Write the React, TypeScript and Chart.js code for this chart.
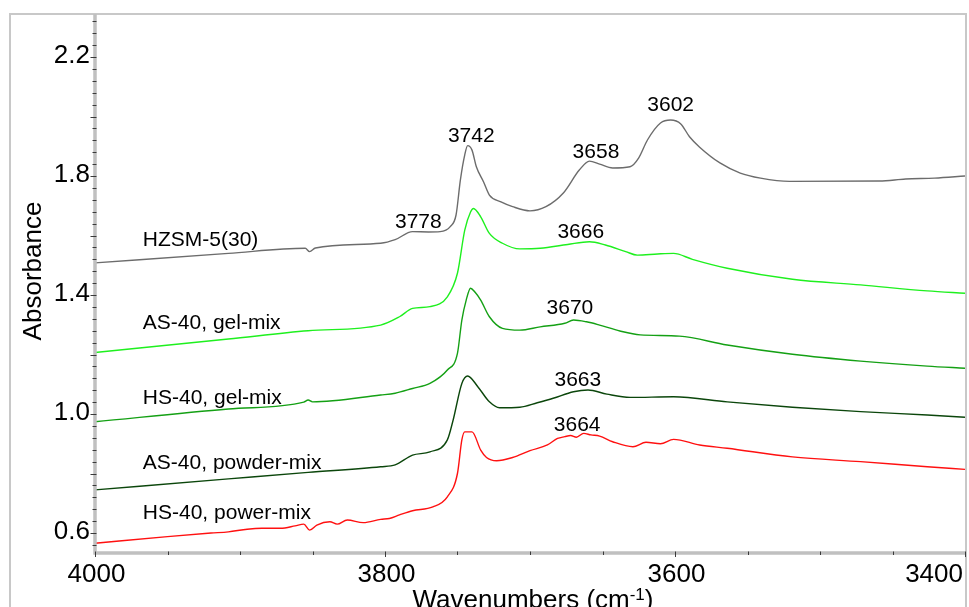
import React, { useEffect, useRef } from "react";
import { Chart, registerables } from "chart.js";

Chart.register(...registerables);

const FONT = "'Liberation Sans', Arial, Helvetica, sans-serif";

// ---------- data (wavenumber cm-1, absorbance) ----------
const hzsmW = [4000, 3908, 3855, 3852, 3848, 3803, 3793, 3781, 3770, 3762, 3755, 3751, 3748, 3745, 3743, 3740, 3737, 3732, 3728, 3720, 3712, 3700, 3689, 3677, 3666, 3659, 3652, 3643, 3631, 3625, 3619, 3610, 3603, 3596, 3590, 3583, 3569, 3555, 3541, 3521, 3459, 3441, 3421, 3400];
const hzsmA = [1.508, 1.540, 1.557, 1.546, 1.558, 1.574, 1.586, 1.613, 1.612, 1.613, 1.630, 1.669, 1.787, 1.871, 1.902, 1.887, 1.831, 1.780, 1.736, 1.713, 1.697, 1.683, 1.697, 1.743, 1.820, 1.850, 1.840, 1.827, 1.831, 1.861, 1.921, 1.978, 1.988, 1.975, 1.932, 1.897, 1.844, 1.810, 1.793, 1.782, 1.783, 1.790, 1.793, 1.800];

const asGelW = [4000, 3908, 3853, 3803, 3790, 3781, 3769, 3757, 3750, 3745, 3741, 3739, 3734, 3728, 3719, 3707, 3693, 3674, 3659, 3648, 3634, 3626, 3612, 3601, 3588, 3564, 3519, 3472, 3426, 3400];
const asGelA = [1.207, 1.252, 1.280, 1.299, 1.327, 1.355, 1.361, 1.394, 1.474, 1.618, 1.679, 1.691, 1.663, 1.607, 1.574, 1.555, 1.557, 1.570, 1.579, 1.568, 1.546, 1.534, 1.538, 1.540, 1.520, 1.490, 1.453, 1.434, 1.414, 1.406];

const hsGelW = [4000, 3908, 3856, 3853, 3850, 3803, 3793, 3781, 3769, 3757, 3750, 3747, 3744, 3741, 3738, 3734, 3728, 3719, 3707, 3693, 3676, 3670, 3661, 3652, 3638, 3624, 3597, 3564, 3519, 3472, 3426, 3400];
const hsGelA = [0.974, 1.017, 1.040, 1.047, 1.041, 1.064, 1.070, 1.086, 1.103, 1.148, 1.205, 1.316, 1.383, 1.423, 1.410, 1.383, 1.327, 1.288, 1.282, 1.293, 1.305, 1.316, 1.310, 1.299, 1.279, 1.266, 1.262, 1.232, 1.201, 1.178, 1.161, 1.154];

const asPowW = [4000, 3908, 3853, 3803, 3793, 3781, 3769, 3757, 3753, 3747, 3743, 3736, 3728, 3721, 3707, 3695, 3684, 3670, 3660, 3647, 3631, 3601, 3564, 3519, 3472, 3426, 3400];
const asPowA = [0.745, 0.782, 0.804, 0.823, 0.829, 0.862, 0.873, 0.913, 0.980, 1.103, 1.128, 1.092, 1.041, 1.021, 1.023, 1.038, 1.053, 1.075, 1.081, 1.067, 1.056, 1.058, 1.041, 1.023, 1.008, 0.997, 0.989];

const hsPowW = [4000, 3950, 3920, 3908, 3895, 3885, 3872, 3862, 3856, 3852, 3847, 3838, 3833, 3826, 3815, 3803, 3797, 3790, 3781, 3767, 3757, 3750, 3747, 3745, 3740, 3734, 3730, 3723, 3712, 3700, 3688, 3681, 3676, 3672, 3668, 3663, 3658, 3652, 3643, 3629, 3620, 3610, 3601, 3583, 3564, 3519, 3472, 3426, 3400];
const hsPowA = [0.566, 0.588, 0.600, 0.604, 0.613, 0.616, 0.616, 0.624, 0.630, 0.610, 0.627, 0.638, 0.630, 0.644, 0.635, 0.646, 0.649, 0.661, 0.675, 0.688, 0.722, 0.801, 0.913, 0.940, 0.940, 0.879, 0.854, 0.843, 0.854, 0.877, 0.896, 0.918, 0.924, 0.928, 0.922, 0.935, 0.930, 0.926, 0.907, 0.890, 0.905, 0.900, 0.915, 0.896, 0.885, 0.856, 0.840, 0.823, 0.814];

const SERIES_NAMES = ["HZSM-5(30)", "AS-40, gel-mix", "HS-40, gel-mix", "AS-40, powder-mix", "HS-40, power-mix"];
const SERIES_COLORS = ["#6c6c6c", "#1ef01e", "#14a014", "#0b460b", "#ff1010"];
const SERIES_W = [hzsmW, asGelW, hsGelW, asPowW, hsPowW];
const SERIES_A = [hzsmA, asGelA, hsGelA, asPowA, hsPowA];

// series name labels (position in data units)
const NAME_LABEL_W = 3967;
const NAME_LABEL_A = [1.585, 1.306, 1.054, 0.835, 0.667];

// peak annotations
const PEAK_TEXT = ["3778", "3742", "3658", "3602", "3666", "3670", "3663", "3664"];
const PEAK_W = [3777, 3740.5, 3654.5, 3603, 3665, 3672.5, 3667, 3667.5];
const PEAK_A = [1.645, 1.934, 1.881, 2.039, 1.612, 1.356, 1.114, 0.963];

const X_TICKS = [4000, 3800, 3600, 3400];
const Y_TICKS = [0.6, 1.0, 1.4, 1.8, 2.2];
const X_MINOR_STEP = 50;
const Y_MINOR_STEP = 0.04;

const X_MIN = 3400;
const X_MAX = 4000;
const Y_MIN = 0.533;
const Y_MAX = 2.3445;

const decorPlugin = {
  id: "decor",
  beforeDraw(chart: any) {
    const ctx = chart.ctx;
    ctx.save();
    ctx.fillStyle = "#ffffff";
    ctx.fillRect(0, 0, chart.width, chart.height);
    ctx.restore();
  },
  afterDraw(chart: any) {
    const ctx = chart.ctx;
    const xs = chart.scales.x;
    const ys = chart.scales.y;
    const area = chart.chartArea;
    ctx.save();

    // outer frame
    ctx.strokeStyle = "#c8c8c8";
    ctx.lineWidth = 2;
    ctx.beginPath();
    ctx.moveTo(10, chart.height);
    ctx.lineTo(10, 14);
    ctx.lineTo(966, 14);
    ctx.lineTo(966, chart.height);
    ctx.stroke();

    // axis lines
    ctx.strokeStyle = "#c0c0c0";
    ctx.lineWidth = 3.5;
    ctx.beginPath();
    ctx.moveTo(area.left, 14);
    ctx.lineTo(area.left, area.bottom + 1.5);
    ctx.moveTo(area.left - 1.5, area.bottom);
    ctx.lineTo(area.right + 1, area.bottom);
    ctx.stroke();

    // tick marks
    ctx.strokeStyle = "#3a3a3a";
    ctx.lineWidth = 1;
    ctx.beginPath();
    const yStart = Math.ceil(Y_MIN / Y_MINOR_STEP - 1e-6);
    const yEnd = Math.floor(Y_MAX / Y_MINOR_STEP + 1e-6);
    for (let k = yStart; k <= yEnd; k++) {
      const v = k * Y_MINOR_STEP;
      const py = Math.round(ys.getPixelForValue(v)) + 0.5;
      const isMid = Math.abs(v / 0.2 - Math.round(v / 0.2)) < 1e-6;
      ctx.moveTo(area.left + 1.5, py);
      ctx.lineTo(area.left - (isMid ? 4.5 : 2.5), py);
    }
    for (let v = X_MIN; v <= X_MAX; v += X_MINOR_STEP) {
      const px = Math.round(xs.getPixelForValue(v)) + 0.5;
      const isMajor = v % 200 === 0;
      ctx.moveTo(px, area.bottom - 1.5);
      ctx.lineTo(px, area.bottom + (isMajor ? 4 : 2));
    }
    ctx.stroke();

    // x tick labels
    ctx.fillStyle = "#000";
    ctx.font = `26px ${FONT}`;
    ctx.textBaseline = "alphabetic";
    X_TICKS.forEach((v, i) => {
      const px = xs.getPixelForValue(v);
      if (i === X_TICKS.length - 1) {
        ctx.textAlign = "right";
        ctx.fillText(String(v), px - 2, 582);
      } else {
        ctx.textAlign = "center";
        ctx.fillText(String(v), px + 1.5, 582);
      }
    });

    // y title
    ctx.save();
    ctx.translate(41, 271);
    ctx.rotate(-Math.PI / 2);
    ctx.textAlign = "center";
    ctx.textBaseline = "alphabetic";
    ctx.font = `26px ${FONT}`;
    ctx.fillText("Absorbance", 0, 0);
    ctx.restore();

    // x title with superscript
    const main = "Wavenumbers (cm";
    const sup = "-1";
    const close = ")";
    ctx.font = `26px ${FONT}`;
    const w1 = ctx.measureText(main).width;
    const w3 = ctx.measureText(close).width;
    ctx.font = `17px ${FONT}`;
    const w2 = ctx.measureText(sup).width;
    let sx = 533 - (w1 + w2 + w3) / 2;
    ctx.textAlign = "left";
    ctx.font = `26px ${FONT}`;
    ctx.fillText(main, sx, 608);
    sx += w1;
    ctx.font = `17px ${FONT}`;
    ctx.fillText(sup, sx, 600);
    sx += w2;
    ctx.font = `26px ${FONT}`;
    ctx.fillText(close, sx, 608);

    // series name labels
    ctx.font = `21px ${FONT}`;
    ctx.textBaseline = "middle";
    ctx.textAlign = "left";
    SERIES_NAMES.forEach((name, i) => {
      ctx.fillText(name, xs.getPixelForValue(NAME_LABEL_W), ys.getPixelForValue(NAME_LABEL_A[i]));
    });

    // peak labels
    ctx.textAlign = "center";
    PEAK_TEXT.forEach((t, i) => {
      ctx.fillText(t, xs.getPixelForValue(PEAK_W[i]), ys.getPixelForValue(PEAK_A[i]));
    });

    ctx.restore();
  },
};

export default function App() {
  const canvasRef = useRef<HTMLCanvasElement | null>(null);

  useEffect(() => {
    const canvas = canvasRef.current;
    if (!canvas) return;
    const datasets = SERIES_NAMES.map((name, i) => ({
      label: name,
      data: SERIES_W[i].map((w, j) => ({ x: w, y: SERIES_A[i][j] })),
      borderColor: SERIES_COLORS[i],
      backgroundColor: SERIES_COLORS[i],
      borderWidth: 1.4,
      pointRadius: 0,
      cubicInterpolationMode: "monotone" as const,
      fill: false,
    }));

    const chart = new Chart(canvas, {
      type: "line",
      data: { datasets },
      plugins: [decorPlugin],
      options: {
        animation: false,
        responsive: false,
        maintainAspectRatio: false,
        devicePixelRatio: 1,
        layout: { padding: { left: 0, top: 14, right: 4, bottom: 0 } },
        plugins: {
          legend: { display: false },
          tooltip: { enabled: false },
          title: { display: false },
        },
        scales: {
          x: {
            type: "linear",
            reverse: true,
            min: X_MIN,
            max: X_MAX,
            grid: { display: false, drawTicks: false },
            border: { display: false },
            ticks: { display: false },
            afterBuildTicks: (scale: any) => {
              scale.ticks = X_TICKS.map((v) => ({ value: v }));
            },
            afterFit: (scale: any) => {
              scale.height = 54;
              scale.paddingLeft = 0;
              scale.paddingRight = 0;
              scale.paddingTop = 0;
              scale.paddingBottom = 0;
            },
          },
          y: {
            type: "linear",
            min: Y_MIN,
            max: Y_MAX,
            grid: { display: false, drawTicks: false },
            border: { display: false },
            ticks: {
              color: "#000",
              font: { family: FONT, size: 26 },
              padding: 5,
              labelOffset: -1,
              callback: (v: any) => Number(v).toFixed(1),
            },
            afterBuildTicks: (scale: any) => {
              scale.ticks = Y_TICKS.map((v) => ({ value: v }));
            },
            afterFit: (scale: any) => {
              scale.width = 95;
              scale.paddingTop = 0;
              scale.paddingBottom = 0;
              scale.paddingLeft = 0;
              scale.paddingRight = 0;
            },
          },
        },
      },
    });
    return () => chart.destroy();
  }, []);

  return (
    <div style={{ position: "absolute", left: 0, top: 0, width: 969, height: 607, overflow: "hidden", background: "#fff" }}>
      <canvas ref={canvasRef} width={969} height={607} style={{ width: 969, height: 607, display: "block" }} />
    </div>
  );
}
